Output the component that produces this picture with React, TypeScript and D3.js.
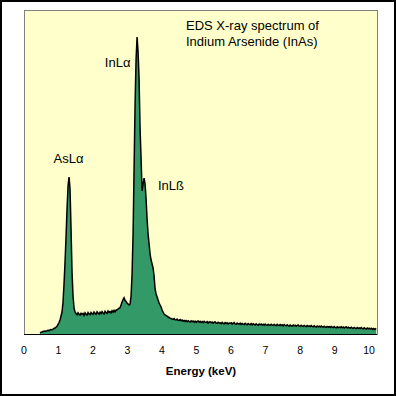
import React from "react";
import * as d3 from "d3";

// Spectrum: counts per channel, channels start at channelStart keV, width channelWidth keV
const channelStart = 0.464;
const channelWidth = 0.029;
const counts: number[] = [
  12, 18, 20, 25, 28, 30, 27, 32, 36, 34,
  40, 45, 42, 48, 55, 60, 68, 78, 95, 115,
  140, 180, 220, 320, 500, 720, 970, 1250, 1480, 1570,
  1450, 1050, 620, 380, 260, 220, 205, 192, 212, 198,
  190, 208, 196, 205, 186, 212, 198, 190, 214, 200,
  194, 216, 202, 196, 220, 206, 198, 222, 208, 200,
  218, 204, 224, 210, 200, 226, 212, 206, 230, 216,
  224, 212, 232, 218, 236, 222, 238, 242, 250, 258,
  262, 290, 320, 345, 362, 335, 325, 308, 300, 290,
  298, 380, 600, 1000, 1650, 2300, 2750, 2970, 2820, 2550,
  2050, 1750, 1430, 1500, 1560, 1500, 1350, 1150, 1000, 900,
  800, 740, 700, 660, 580, 450, 400, 370, 340, 310,
  290, 270, 240, 220, 200, 192, 185, 178, 170, 165,
  158, 155, 150, 146, 154, 143, 140, 150, 138, 136,
  144, 133, 140, 128, 136, 126, 134, 123, 132, 126,
  120, 132, 123, 130, 118, 128, 116, 126, 130, 118,
  127, 116, 124, 113, 126, 118, 114, 124, 110, 120,
  122, 112, 120, 108, 118, 122, 110, 106, 118, 110,
  112, 104, 116, 106, 102, 114, 104, 112, 100, 110,
  107, 112, 98, 108, 114, 100, 96, 110, 102, 98,
  108, 96, 106, 98, 94, 106, 98, 92, 104, 96,
  94, 104, 92, 102, 96, 90, 102, 94, 88, 100,
  92, 100, 90, 98, 88, 100, 92, 86, 98, 90,
  88, 98, 90, 86, 96, 88, 84, 96, 88, 86,
  94, 84, 92, 82, 94, 86, 82, 92, 84, 80,
  90, 82, 78, 90, 82, 88, 78, 86, 90, 80,
  78, 88, 80, 76, 86, 78, 74, 84, 76, 82,
  74, 84, 76, 72, 82, 74, 70, 80, 72, 78,
  70, 80, 72, 68, 78, 70, 66, 76, 68, 74,
  66, 76, 68, 64, 74, 66, 62, 72, 64, 70,
  64, 72, 62, 70, 60, 68, 72, 60, 68, 62,
  58, 68, 60, 56, 66, 58, 54, 64, 56, 62,
  54, 64, 56, 52, 62, 54, 50, 60, 52, 58,
  50, 58, 48, 56, 46, 54, 46,
];

const xTicks = [0, 1, 2, 3, 4, 5, 6, 7, 8, 9, 10];
const titleLines = ["EDS X-ray spectrum of", "Indium Arsenide (InAs)"];
const peakLabels = [
  { text: "InLα", energy: 3.3, count: 2970 },
  { text: "AsLα", energy: 1.29, count: 1570 },
  { text: "InLß", energy: 3.52, count: 1560 },
];
const xLabel = "Energy (keV)";

export default function App() {
  const W = 396, H = 396;
  const left = 24, right = 377, top = 10, bottom = 334;
  const x = d3.scaleLinear().domain([0, 10.23]).range([left, right]);
  const y = d3.scaleLinear().domain([0, 3240]).range([bottom, top]);

  const pts = counts.map((c, i) => ({ e: channelStart + i * channelWidth, c }));
  const area = d3.area<{ e: number; c: number }>()
    .x((d) => x(d.e))
    .y0(y(0))
    .y1((d) => y(d.c));
  const line = d3.line<{ e: number; c: number }>()
    .x((d) => x(d.e))
    .y((d) => y(d.c));

  const font = "'Liberation Sans', Arial, sans-serif";
  // label offsets relative to peak (pixels)
  const labelPos = [
    { dx: -33, dy: 30 },
    { dx: -15, dy: -14 },
    { dx: 12.5, dy: 12 },
  ];

  return (
    <svg width={W} height={H} style={{ position: "absolute", left: 0, top: 0 }} xmlns="http://www.w3.org/2000/svg">
      <rect x={0} y={0} width={W} height={H} fill="#ffffff" />
      <rect x={1} y={1} width={W - 2} height={H - 2} fill="none" stroke="#000" strokeWidth={2} />
      <rect x={left} y={top} width={right - left} height={bottom - top} fill="#ffffcc" stroke="#808080" strokeWidth={1} shapeRendering="crispEdges" />
      <path d={area(pts) || ""} fill="#339966" />
      <path d={line(pts) || ""} fill="none" stroke="#000" strokeWidth={1.5} strokeLinejoin="miter" />
      <line x1={left} x2={right} y1={bottom + 0.5} y2={bottom + 0.5} stroke="#000" strokeWidth={1} />
      {xTicks.map((t) => (
        <text key={t} x={x(t)} y={354} textAnchor="middle" fontFamily={font} fontSize={10.5} fill="#000">
          {t}
        </text>
      ))}
      <text x={(left + right) / 2 + 0.5} y={374.5} textAnchor="middle" fontFamily={font} fontSize={11.5} fontWeight="bold" fill="#000">
        {xLabel}
      </text>
      {titleLines.map((s, i) => (
        <text key={s} x={186} y={29.5 + i * 16.5} fontFamily={font} fontSize={13} fill="#000">
          {s}
        </text>
      ))}
      {peakLabels.map((p, i) => (
        <text key={p.text} x={x(p.energy) + labelPos[i].dx} y={y(p.count) + labelPos[i].dy} fontFamily={font} fontSize={13} fill="#000">
          {p.text}
        </text>
      ))}
    </svg>
  );
}
